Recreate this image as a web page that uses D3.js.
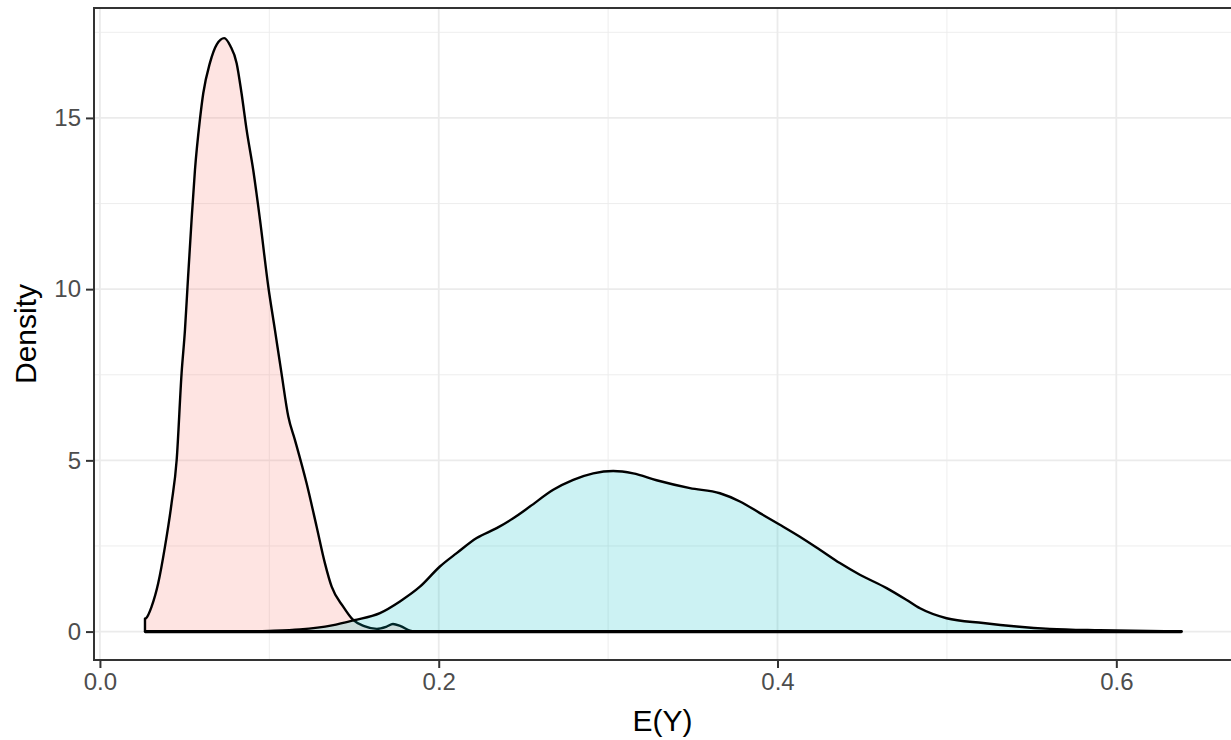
<!DOCTYPE html>
<html>
<head>
<meta charset="utf-8">
<script src="https://cdn.jsdelivr.net/npm/d3@7"></script>
<style>
  html, body { margin: 0; padding: 0; background: #fff; }
  svg { display: block; font-family: "Liberation Sans", Arial, sans-serif; }
</style>
</head>
<body>
<div id="chart"></div>
<script>
// density curves (x = E(Y), y = density)
const redX = [0.0266, 0.0266, 0.0272, 0.0305, 0.0344, 0.0384, 0.0423, 0.0453, 0.0482, 0.0502, 0.0517,
  0.0541, 0.0561, 0.0590, 0.0610, 0.0649, 0.0690, 0.0734, 0.0770, 0.0807, 0.0836, 0.0866, 0.0905,
  0.0945, 0.0994, 0.1033, 0.1072, 0.1112, 0.1151, 0.1220, 0.1279, 0.1328, 0.1368, 0.1436, 0.1495,
  0.1560, 0.1635, 0.1690, 0.1730, 0.1775, 0.1830, 0.1870, 0.6385];
const redY = [0, 0.38, 0.39, 0.73, 1.41, 2.48, 3.75, 5.01, 7.54, 8.81, 10.07,
  12.02, 13.48, 14.94, 15.72, 16.6, 17.15, 17.33, 17.1, 16.6, 15.72, 14.65, 13.48,
  12.02, 10.07, 8.81, 7.54, 6.28, 5.60, 4.33, 3.07, 2.0, 1.31, 0.73, 0.34,
  0.16, 0.08, 0.14, 0.22, 0.16, 0.03, 0, 0];

const tealX = [0.0266, 0.06, 0.08, 0.10, 0.118, 0.137, 0.150, 0.1653, 0.1771, 0.1889, 0.2007, 0.2106,
  0.2224, 0.2342, 0.2440, 0.2538, 0.2676, 0.2794, 0.2912, 0.3030, 0.3148, 0.3286, 0.3483, 0.3660,
  0.3778, 0.3896, 0.4014, 0.4132, 0.4250, 0.4368, 0.4486, 0.4644, 0.4760, 0.4841, 0.4998, 0.5214,
  0.5411, 0.5608, 0.5903, 0.6385];
const tealY = [0, 0.001, 0.004, 0.02, 0.06, 0.18, 0.33, 0.54, 0.88, 1.31, 1.90, 2.29,
  2.73, 3.02, 3.31, 3.65, 4.14, 4.43, 4.62, 4.69, 4.62, 4.42, 4.19, 4.04,
  3.80, 3.46, 3.12, 2.77, 2.39, 2.0, 1.66, 1.27, 0.93, 0.68, 0.39, 0.25,
  0.15, 0.08, 0.04, 0.01];

const xMajor = [0, 0.2, 0.4, 0.6];
const xMinor = [0.1, 0.3, 0.5];
const xLabels = ['0.0', '0.2', '0.4', '0.6'];
const yMajor = [0, 5, 10, 15];
const yMinor = [2.5, 7.5, 12.5, 17.5];
const xDomain = [-0.0035, 0.6677];
const yDomain = [-0.83, 18.21];

const W = 1231, H = 740;
const panel = {left: 94, top: 8, right: 1232, bottom: 660};

const svg = d3.select('#chart').append('svg').attr('width', W).attr('height', H);

const x = d3.scaleLinear().domain(xDomain).range([panel.left, panel.right - 1]);
const y = d3.scaleLinear().domain(yDomain).range([panel.bottom, panel.top]);

svg.append('defs').append('clipPath').attr('id', 'clip')
  .append('rect').attr('x', panel.left).attr('y', panel.top)
  .attr('width', panel.right - panel.left).attr('height', panel.bottom - panel.top);

// grid
const grid = svg.append('g');
grid.selectAll('.xmin').data(xMinor).join('line')
  .attr('x1', d => x(d)).attr('x2', d => x(d)).attr('y1', panel.top).attr('y2', panel.bottom)
  .attr('stroke', '#EBEBEB').attr('stroke-width', 0.9);
grid.selectAll('.ymin').data(yMinor).join('line')
  .attr('y1', d => y(d)).attr('y2', d => y(d)).attr('x1', panel.left).attr('x2', panel.right)
  .attr('stroke', '#EBEBEB').attr('stroke-width', 0.9);
grid.selectAll('.xmaj').data(xMajor).join('line')
  .attr('x1', d => x(d)).attr('x2', d => x(d)).attr('y1', panel.top).attr('y2', panel.bottom)
  .attr('stroke', '#EBEBEB').attr('stroke-width', 1.8);
grid.selectAll('.ymaj').data(yMajor).join('line')
  .attr('y1', d => y(d)).attr('y2', d => y(d)).attr('x1', panel.left).attr('x2', panel.right)
  .attr('stroke', '#EBEBEB').attr('stroke-width', 1.8);

// densities: red first, teal drawn over it
const groups = [
  {xs: redX, ys: redY, fill: '#F8766D'},
  {xs: tealX, ys: tealY, fill: '#00BFC4'}
];
const area = d3.area().x(d => x(d[0])).y0(y(0)).y1(d => y(d[1])).curve(d3.curveMonotoneX);
const plot = svg.append('g').attr('clip-path', 'url(#clip)');
groups.forEach(g => {
  const pts = g.xs.map((v, i) => [v, g.ys[i]]);
  plot.append('path').datum(pts)
    .attr('d', area)
    .attr('fill', g.fill).attr('fill-opacity', 0.2)
    .attr('stroke', '#000').attr('stroke-width', 2.4).attr('stroke-linejoin', 'round');
});
// both outlines share the zero line, so it reads heavier
plot.append('line')
  .attr('x1', x(d3.min(redX))).attr('x2', x(d3.max(tealX)))
  .attr('y1', y(0)).attr('y2', y(0))
  .attr('stroke', '#000').attr('stroke-width', 3.4);

// panel border
svg.append('rect').attr('x', panel.left).attr('y', panel.top)
  .attr('width', panel.right - panel.left).attr('height', panel.bottom - panel.top)
  .attr('fill', 'none').attr('stroke', '#333333').attr('stroke-width', 2);

// axes
const xAxis = svg.append('g').attr('transform', `translate(0,${panel.bottom})`)
  .call(d3.axisBottom(x).tickValues(xMajor).tickFormat((d, i) => xLabels[i]).tickSize(8).tickPadding(5));
const yAxis = svg.append('g').attr('transform', `translate(${panel.left},0)`)
  .call(d3.axisLeft(y).tickValues(yMajor).tickSize(8).tickPadding(5));
[xAxis, yAxis].forEach(a => {
  a.select('.domain').remove();
  a.selectAll('.tick line').attr('stroke', '#333333').attr('stroke-width', 2);
  a.selectAll('.tick text').attr('fill', '#4D4D4D').attr('font-size', 24)
    .attr('font-family', '"Liberation Sans", Arial, sans-serif');
});

// titles
svg.append('text').attr('x', (panel.left + W) / 2).attr('y', 731)
  .attr('text-anchor', 'middle').attr('font-size', 30).attr('fill', '#000').text('E(Y)');
svg.append('text').attr('transform', `translate(36,${(panel.top + panel.bottom) / 2}) rotate(-90)`)
  .attr('text-anchor', 'middle').attr('font-size', 30).attr('fill', '#000').text('Density');
</script>
</body>
</html>
